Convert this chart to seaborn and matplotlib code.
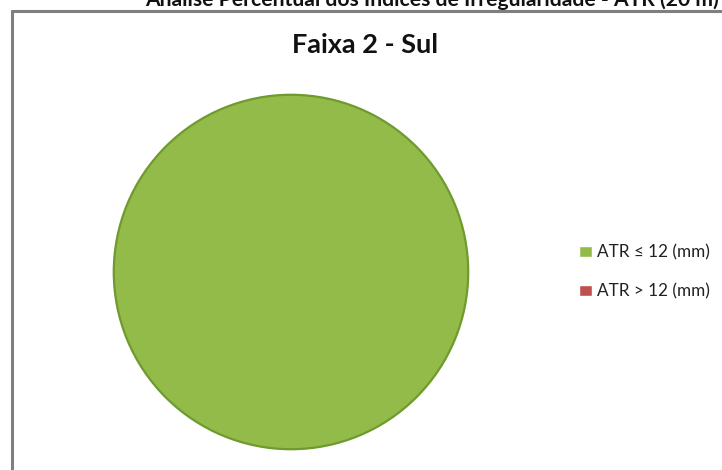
import matplotlib
matplotlib.use("Agg")
import matplotlib.pyplot as plt
import seaborn as sns
from matplotlib.patches import Rectangle, Circle
from matplotlib.lines import Line2D

categories = ["ATR \u2264 12 (mm)", "ATR > 12 (mm)"]
values = [100.0, 0.0]
colors = ["#93BB4A", "#C0504D"]
chart_title = "Faixa 2 - Sul"
top_text = "An\u00e1lise Percentual dos \u00cdndices de Irregularidade - ATR (20 m)"

sns.set_theme(style="white")
plt.rcParams["font.family"] = ["Lato", "DejaVu Sans"]

W, H = 722, 470
fig = plt.figure(figsize=(W / 100, H / 100), dpi=100)
fig.patch.set_facecolor("white")

# frame
fig.add_artist(Line2D([12 / W, 12 / W], [0, 1 - 11 / H], color="#7f7f7f", lw=2.2,
                      transform=fig.transFigure))
fig.add_artist(Line2D([12 / W, 1], [1 - 11 / H, 1 - 11 / H], color="#7f7f7f", lw=2.2,
                      transform=fig.transFigure))

# top caption (partly outside the picture, as in the reference)
fig.text(432 / W, 1 + 2 / H, top_text, ha="center", va="center", fontsize=15.2,
         fontweight="bold", color="#111111")

fig.text(365 / W, 1 - 45 / H, chart_title, ha="center", va="center", fontsize=19.5,
         fontweight="bold", color="#111111")

cx, cy, r = 291, 272, 179
ax = fig.add_axes([(cx - r) / W, (H - cy - r) / H, 2 * r / W, 2 * r / H])
wedges, _ = ax.pie(values, colors=colors, startangle=90, counterclock=False,
                   wedgeprops=dict(linewidth=0))
ax.add_patch(Circle((0, 0), 1, fill=False, edgecolor="#6F9A2E", linewidth=1.6))
ax.set_xlim(-1.01, 1.01)
ax.set_ylim(-1.01, 1.01)
ax.set_aspect("equal")
ax.axis("off")

handles = [Rectangle((0, 0), 1, 1, facecolor=c, edgecolor="#ffffff") for c in colors]
fig.legend(handles, categories, loc="center left", bbox_to_anchor=(579 / W, 1 - 272 / H),
           frameon=False, fontsize=12.3, handlelength=0.75, handleheight=0.6,
           handletextpad=0.3, labelspacing=1.3, borderpad=0, borderaxespad=0,
           labelcolor="#222222")

fig.savefig("out.png", dpi=100, facecolor="white")
